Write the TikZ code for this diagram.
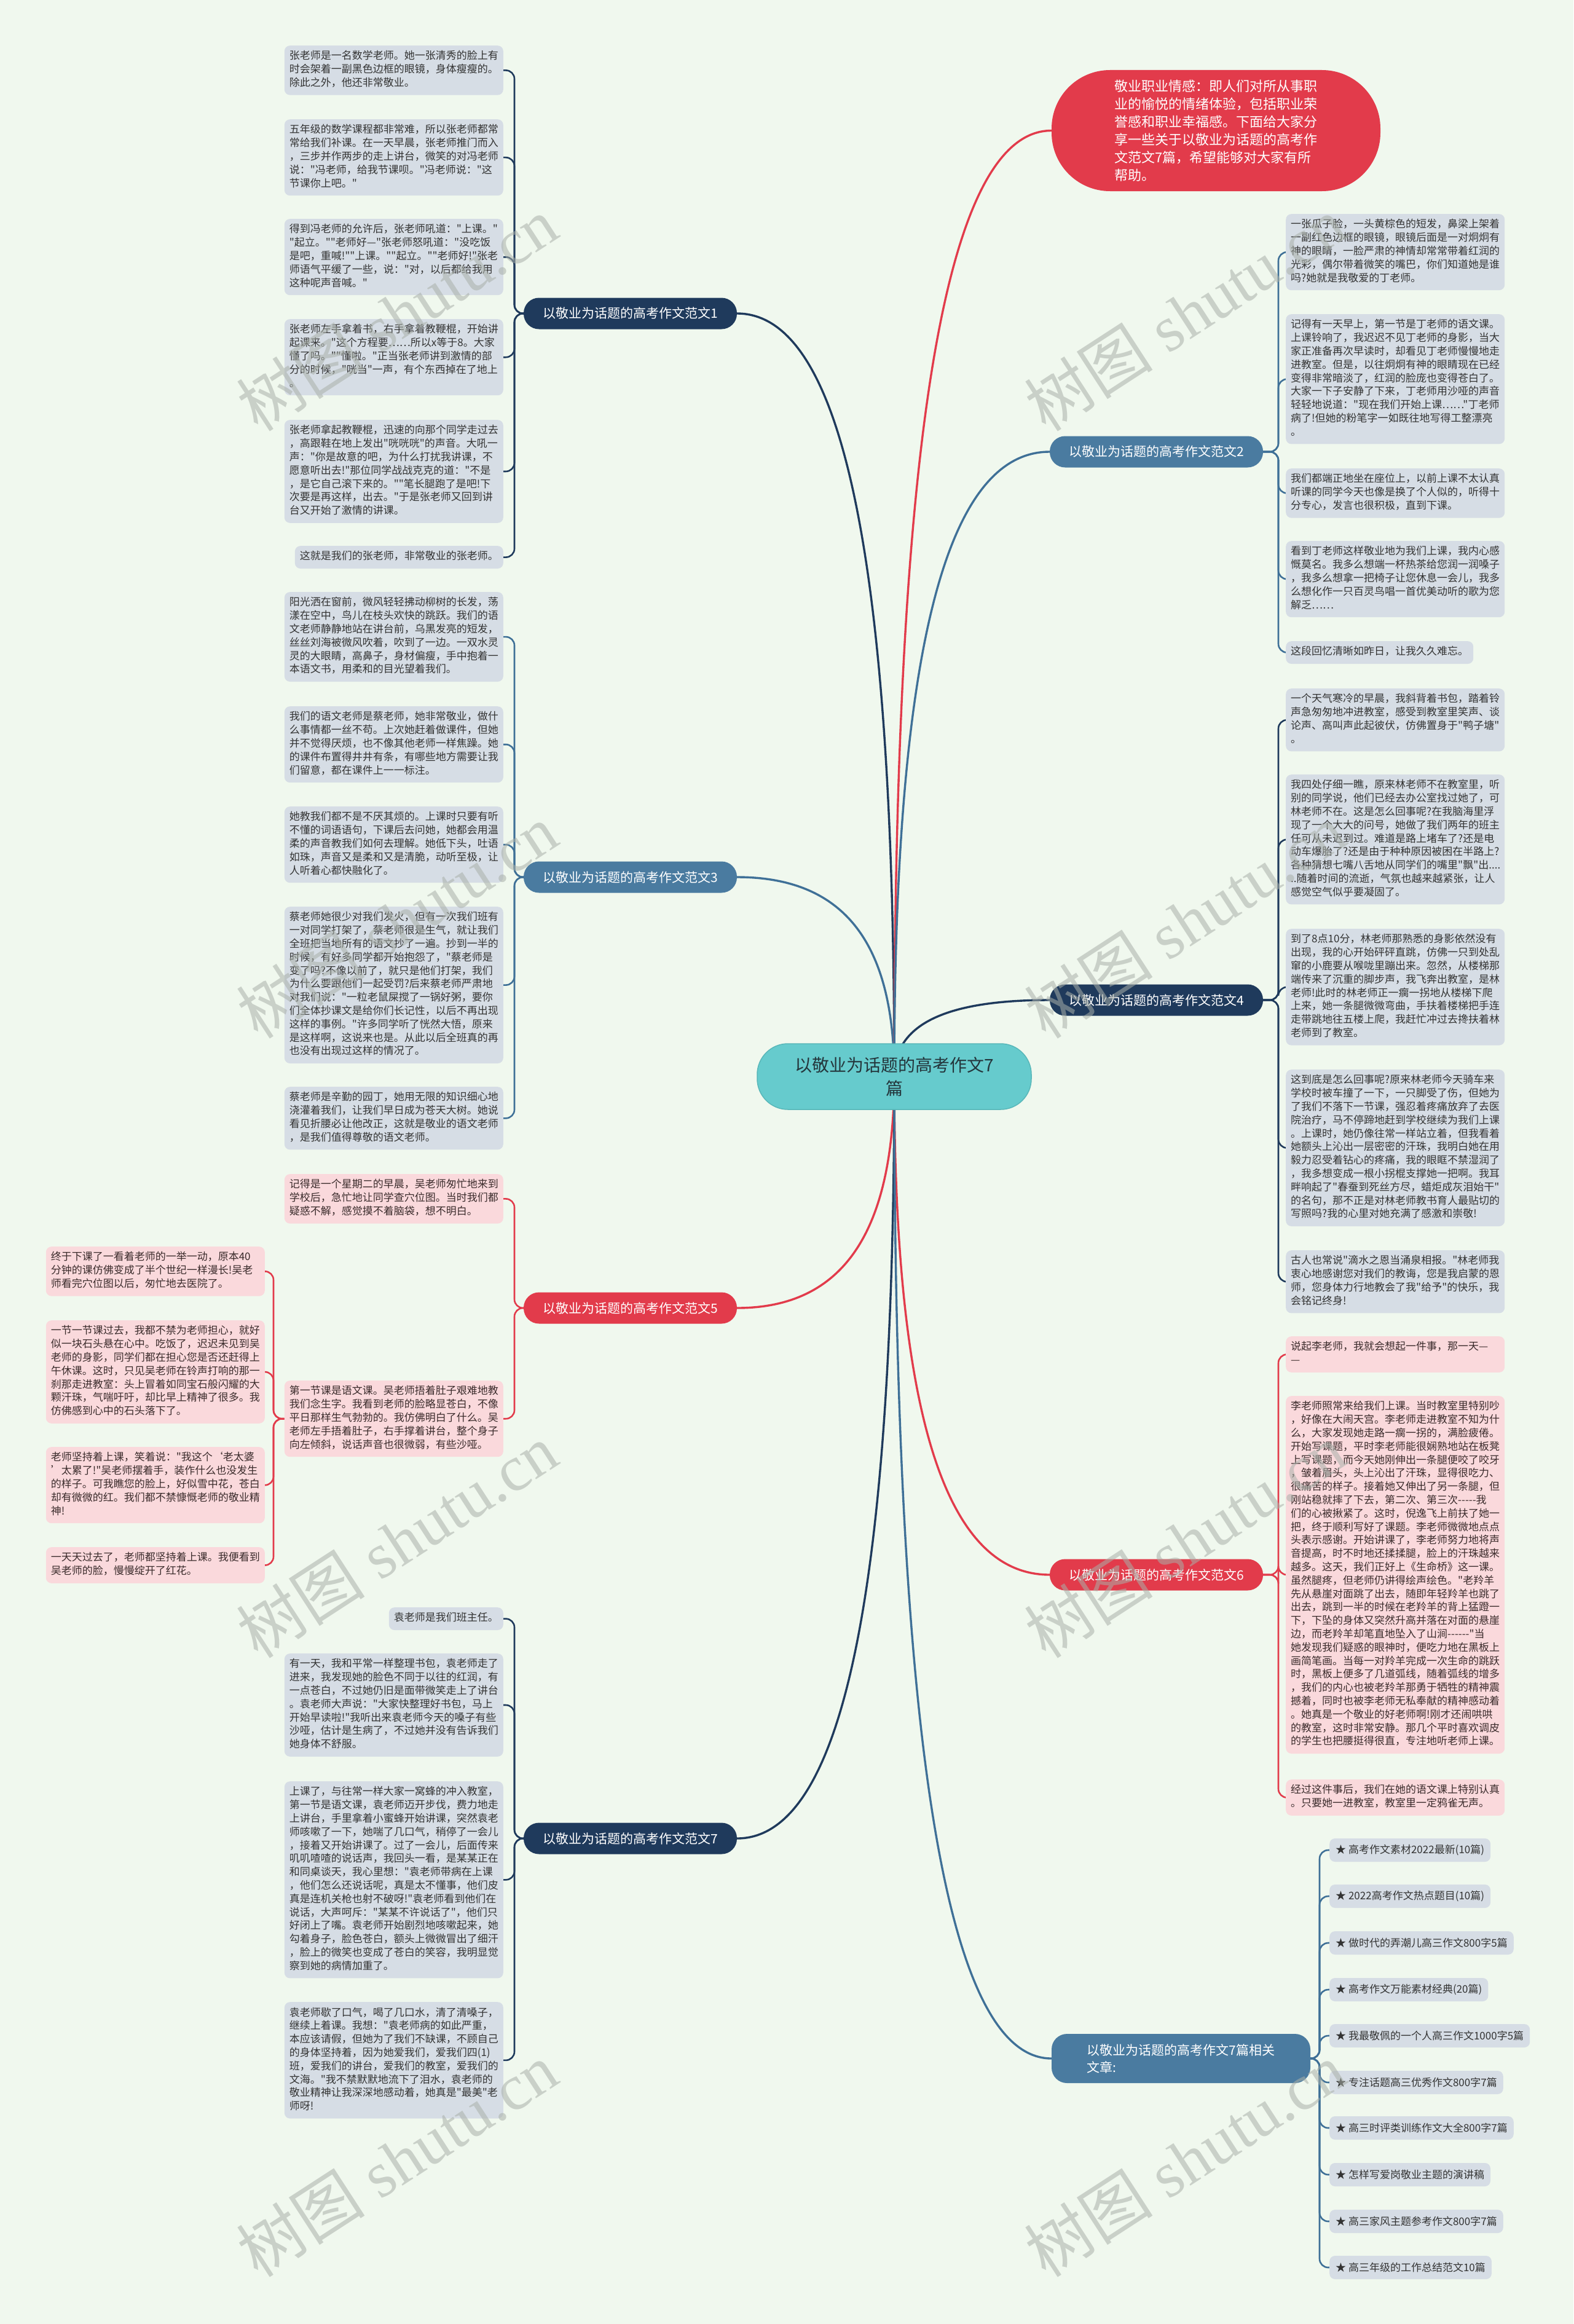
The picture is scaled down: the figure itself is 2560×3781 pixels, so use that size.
\documentclass[tikz,border=0pt]{standalone}
\usepackage{fontspec}
\newfontfamily\cjk{Noto Sans CJK SC}
\newfontfamily\wmserif{Liberation Serif}
\definecolor{bgc}{HTML}{F0F8EE}
\definecolor{navy}{HTML}{1F3A5C}
\definecolor{steel}{HTML}{4A7BA0}
\definecolor{steelc}{HTML}{3F7097}
\definecolor{redc}{HTML}{E23B4B}
\definecolor{gfill}{HTML}{D6DDE5}
\definecolor{gtext}{HTML}{333333}
\definecolor{pfill}{HTML}{FAD9DC}
\definecolor{ptext}{HTML}{3A2B2B}
\definecolor{tealf}{HTML}{66CBCD}
\definecolor{teald}{HTML}{58B7B9}
\definecolor{ctext}{HTML}{24363C}
\definecolor{wmc}{HTML}{A9B0A9}
\pgfdeclarelayer{background}
\pgfsetlayers{background,main}
\tikzset{
  box/.style={rounded corners=9pt, inner xsep=8pt, inner ysep=7.5pt, align=left,
    font=\cjk\fontsize{17}{21.8}\selectfont,
    execute at begin node=\strut, execute at end node=\strut},
  gbox/.style={box, fill=gfill, text=gtext},
  pbox/.style={box, fill=pfill, text=ptext},
  wide/.style={text width=340pt},
  lab/.style={rounded corners=25pt, minimum width=347pt, minimum height=51pt, text=white,
    font=\cjk\fontsize{21}{26}\selectfont, inner sep=0pt},
  item/.style={fill=gfill, text=gtext, rounded corners=9pt, font=\cjk\fontsize{17}{20}\selectfont,
    inner xsep=10pt, inner ysep=0pt, minimum height=38pt, anchor=west},
  mainln/.style={line width=3.4pt},
  subln/.style={line width=2.6pt, rounded corners=14pt},
  wm/.style={rotate=33, text=wmc, opacity=0.55, font=\wmserif\fontsize{105}{105}\selectfont}
}
\begin{document}
\begin{tikzpicture}[x=1pt,y=-1pt]
\useasboundingbox (0,0) rectangle (2560,3781);
\coordinate (S) at (1455,1751);

% ---------- centre and intro ----------
\node[rounded corners=50pt, fill=tealf, draw=teald, line width=1.5pt, minimum width=446pt,
  minimum height=107pt, align=center, text=ctext, font=\cjk\fontsize{28}{38}\selectfont]
  (C) at (1455,1751.5) {以敬业为话题的高考作文7\\篇};
\node[rounded corners=95pt, fill=redc, minimum width=535pt, minimum height=197pt, text=white,
  align=left, font=\cjk\fontsize{22}{29}\selectfont] (intro) at (1978.5,212.5)
  {敬业职业情感：即人们对所从事职\\业的愉悦的情绪体验，包括职业荣\\誉感和职业幸福感。下面给大家分\\享一些关于以敬业为话题的高考作\\文范文7篇，希望能够对大家有所\\帮助。};

% ---------- branch labels ----------
\node[lab, fill=navy] (B1) at (1025.5,510) {以敬业为话题的高考作文范文1};
\node[lab, fill=steel] (B3) at (1025.5,1427) {以敬业为话题的高考作文范文3};
\node[lab, fill=redc] (B5) at (1025.5,2128) {以敬业为话题的高考作文范文5};
\node[lab, fill=navy] (B7) at (1025.5,2991) {以敬业为话题的高考作文范文7};
\node[lab, fill=steel] (B2) at (1881.5,735) {以敬业为话题的高考作文范文2};
\node[lab, fill=navy] (B4) at (1881.5,1627) {以敬业为话题的高考作文范文4};
\node[lab, fill=redc] (B6) at (1881.5,2562) {以敬业为话题的高考作文范文6};
\node[lab, fill=steel, minimum width=421pt, minimum height=80pt, align=left,
  font=\cjk\fontsize{21}{28}\selectfont] (rel) at (1921.5,3349)
  {以敬业为话题的高考作文7篇相关\\文章:};

% ---------- branch 1 ----------
\node[gbox,wide,anchor=north east] (b1a) at (819,74) {张老师是一名数学老师。她一张清秀的脸上有\\时会架着一副黑色边框的眼镜，身体瘦瘦的。\\除此之外，他还非常敬业。};
\node[gbox,wide,anchor=north east] (b1b) at (819,194) {五年级的数学课程都非常难，所以张老师都常\\常给我们补课。在一天早晨，张老师推门而入\\，三步并作两步的走上讲台，微笑的对冯老师\\说："冯老师，给我节课呗。"冯老师说："这\\节课你上吧。"};
\node[gbox,wide,anchor=north east] (b1c) at (819,356) {得到冯老师的允许后，张老师吼道："上课。"\\"起立。""老师好—"张老师怒吼道："没吃饭\\是吧，重喊!""上课。""起立。""老师好!"张老\\师语气平缓了一些，说："对，以后都给我用\\这种呢声音喊。"};
\node[gbox,wide,anchor=north east] (b1d) at (819,519) {张老师左手拿着书，右手拿着教鞭棍，开始讲\\起课来。"这个方程要……所以x等于8。大家\\懂了吗。""懂啦。"正当张老师讲到激情的部\\分的时候，"咣当"一声，有个东西掉在了地上\\。};
\node[gbox,wide,anchor=north east] (b1e) at (819,683) {张老师拿起教鞭棍，迅速的向那个同学走过去\\，高跟鞋在地上发出"咣咣咣"的声音。大吼一\\声："你是故意的吧，为什么打扰我讲课，不\\愿意听出去!"那位同学战战克克的道："不是\\，是它自己滚下来的。""笔长腿跑了是吧!下\\次要是再这样，出去。"于是张老师又回到讲\\台又开始了激情的讲课。};
\node[gbox,anchor=north east] (b1f) at (819,888) {这就是我们的张老师，非常敬业的张老师。};

% ---------- branch 3 ----------
\node[gbox,wide,anchor=north east] (b3a) at (819,963) {阳光洒在窗前，微风轻轻拂动柳树的长发，荡\\漾在空中，鸟儿在枝头欢快的跳跃。我们的语\\文老师静静地站在讲台前，乌黑发亮的短发，\\丝丝刘海被微风吹着，吹到了一边。一双水灵\\灵的大眼睛，高鼻子，身材偏瘦，手中抱着一\\本语文书，用柔和的目光望着我们。};
\node[gbox,wide,anchor=north east] (b3b) at (819,1149) {我们的语文老师是蔡老师，她非常敬业，做什\\么事情都一丝不苟。上次她赶着做课件，但她\\并不觉得厌烦，也不像其他老师一样焦躁。她\\的课件布置得井井有条，有哪些地方需要让我\\们留意，都在课件上一一标注。};
\node[gbox,wide,anchor=north east] (b3c) at (819,1312) {她教我们都不是不厌其烦的。上课时只要有听\\不懂的词语语句，下课后去问她，她都会用温\\柔的声音教我们如何去理解。她低下头，吐语\\如珠，声音又是柔和又是清脆，动听至极，让\\人听着心都快融化了。};
\node[gbox,wide,anchor=north east] (b3d) at (819,1475) {蔡老师她很少对我们发火，但有一次我们班有\\一对同学打架了，蔡老师很是生气，就让我们\\全班把当地所有的语文抄了一遍。抄到一半的\\时候，有好多同学都开始抱怨了，"蔡老师是\\变了吗?不像以前了，就只是他们打架，我们\\为什么要跟他们一起受罚?后来蔡老师严肃地\\对我们说："一粒老鼠屎搅了一锅好粥，要你\\们全体抄课文是给你们长记性，以后不再出现\\这样的事例。"许多同学听了恍然大悟，原来\\是这样啊，这说来也是。从此以后全班真的再\\也没有出现过这样的情况了。};
\node[gbox,wide,anchor=north east] (b3e) at (819,1768) {蔡老师是辛勤的园丁，她用无限的知识细心地\\浇灌着我们，让我们早日成为苍天大树。她说\\看见折腰必让他改正，这就是敬业的语文老师\\，是我们值得尊敬的语文老师。};

% ---------- branch 5 ----------
\node[pbox,wide,anchor=north east] (b5a) at (819,1910) {记得是一个星期二的早晨，吴老师匆忙地来到\\学校后，急忙地让同学查穴位图。当时我们都\\疑惑不解，感觉摸不着脑袋，想不明白。};
\node[pbox,wide,anchor=north east] (b5b) at (819,2246) {第一节课是语文课。吴老师捂着肚子艰难地教\\我们念生字。我看到老师的脸略显苍白，不像\\平日那样生气勃勃的。我仿佛明白了什么。吴\\老师左手捂着肚子，右手撑着讲台，整个身子\\向左倾斜，说话声音也很微弱，有些沙哑。};
\node[pbox,wide,anchor=north east] (b5c) at (431,2028) {终于下课了一看着老师的一举一动，原本40\\分钟的课仿佛变成了半个世纪一样漫长!吴老\\师看完穴位图以后，匆忙地去医院了。};
\node[pbox,wide,anchor=north east] (b5d) at (431,2148) {一节一节课过去，我都不禁为老师担心，就好\\似一块石头悬在心中。吃饭了，迟迟未见到吴\\老师的身影，同学们都在担心您是否还赶得上\\午休课。这时，只见吴老师在铃声打响的那一\\刹那走进教室：头上冒着如同宝石般闪耀的大\\颗汗珠，气喘吁吁，却比早上精神了很多。我\\仿佛感到心中的石头落下了。};
\node[pbox,wide,anchor=north east] (b5e) at (431,2354) {老师坚持着上课，笑着说："我这个‘老太婆\\’太累了!"吴老师摆着手，装作什么也没发生\\的样子。可我瞧您的脸上，好似雪中花，苍白\\却有微微的红。我们都不禁慷慨老师的敬业精\\神!};
\node[pbox,wide,anchor=north east] (b5f) at (431,2517) {一天天过去了，老师都坚持着上课。我便看到\\吴老师的脸，慢慢绽开了红花。};

% ---------- branch 7 ----------
\node[gbox,anchor=north east] (b7a) at (819,2615) {袁老师是我们班主任。};
\node[gbox,wide,anchor=north east] (b7b) at (819,2690) {有一天，我和平常一样整理书包，袁老师走了\\进来，我发现她的脸色不同于以往的红润，有\\一点苍白，不过她仍旧是面带微笑走上了讲台\\。袁老师大声说："大家快整理好书包，马上\\开始早读啦!"我听出来袁老师今天的嗓子有些\\沙哑，估计是生病了，不过她并没有告诉我们\\她身体不舒服。};
\node[gbox,wide,anchor=north east] (b7c) at (819,2898) {上课了，与往常一样大家一窝蜂的冲入教室，\\第一节是语文课，袁老师迈开步伐，费力地走\\上讲台，手里拿着小蜜蜂开始讲课，突然袁老\\师咳嗽了一下，她喘了几口气，稍停了一会儿\\，接着又开始讲课了。过了一会儿，后面传来\\叽叽喳喳的说话声，我回头一看，是某某正在\\和同桌谈天，我心里想："袁老师带病在上课\\，他们怎么还说话呢，真是太不懂事，他们皮\\真是连机关枪也射不破呀!"袁老师看到他们在\\说话，大声呵斥："某某不许说话了"，他们只\\好闭上了嘴。袁老师开始剧烈地咳嗽起来，她\\勾着身子，脸色苍白，额头上微微冒出了细汗\\，脸上的微笑也变成了苍白的笑容，我明显觉\\察到她的病情加重了。};
\node[gbox,wide,anchor=north east] (b7d) at (819,3257) {袁老师歇了口气，喝了几口水，清了清嗓子，\\继续上着课。我想："袁老师病的如此严重，\\本应该请假，但她为了我们不缺课，不顾自己\\的身体坚持着，因为她爱我们，爱我们四(1)\\班，爱我们的讲台，爱我们的教室，爱我们的\\文海。"我不禁默默地流下了泪水，袁老师的\\敬业精神让我深深地感动着，她真是"最美"老\\师呀!};

% ---------- branch 2 ----------
\node[gbox,wide,anchor=north west] (b2a) at (2092,348) {一张瓜子脸，一头黄棕色的短发，鼻梁上架着\\一副红色边框的眼镜，眼镜后面是一对炯炯有\\神的眼睛，一脸严肃的神情却常常带着红润的\\光彩，偶尔带着微笑的嘴巴，你们知道她是谁\\吗?她就是我敬爱的丁老师。};
\node[gbox,wide,anchor=north west] (b2b) at (2092,511) {记得有一天早上，第一节是丁老师的语文课。\\上课铃响了，我迟迟不见丁老师的身影，当大\\家正准备再次早读时，却看见丁老师慢慢地走\\进教室。但是，以往炯炯有神的眼睛现在已经\\变得非常暗淡了，红润的脸庞也变得苍白了。\\大家一下子安静了下来，丁老师用沙哑的声音\\轻轻地说道："现在我们开始上课……"丁老师\\病了!但她的粉笔字一如既往地写得工整漂亮\\。};
\node[gbox,wide,anchor=north west] (b2c) at (2092,762) {我们都端正地坐在座位上，以前上课不太认真\\听课的同学今天也像是换了个人似的，听得十\\分专心，发言也很积极，直到下课。};
\node[gbox,wide,anchor=north west] (b2d) at (2092,880) {看到丁老师这样敬业地为我们上课，我内心感\\慨莫名。我多么想端一杯热茶给您润一润嗓子\\，我多么想拿一把椅子让您休息一会儿，我多\\么想化作一只百灵鸟唱一首优美动听的歌为您\\解乏……};
\node[gbox,anchor=north west] (b2e) at (2092,1043) {这段回忆清晰如昨日，让我久久难忘。};

% ---------- branch 4 ----------
\node[gbox,wide,anchor=north west] (b4a) at (2092,1120) {一个天气寒冷的早晨，我斜背着书包，踏着铃\\声急匆匆地冲进教室，感受到教室里笑声、谈\\论声、高叫声此起彼伏，仿佛置身于"鸭子塘"\\。};
\node[gbox,wide,anchor=north west] (b4b) at (2092,1260) {我四处仔细一瞧，原来林老师不在教室里，听\\别的同学说，他们已经去办公室找过她了，可\\林老师不在。这是怎么回事呢?在我脑海里浮\\现了一个大大的问号，她做了我们两年的班主\\任可从未迟到过。难道是路上堵车了?还是电\\动车爆胎了?还是由于种种原因被困在半路上?\\各种猜想七嘴八舌地从同学们的嘴里"飘"出....\\..随着时间的流逝，气氛也越来越紧张，让人\\感觉空气似乎要凝固了。};
\node[gbox,wide,anchor=north west] (b4c) at (2092,1511) {到了8点10分，林老师那熟悉的身影依然没有\\出现，我的心开始砰砰直跳，仿佛一只到处乱\\窜的小鹿要从喉咙里蹦出来。忽然，从楼梯那\\端传来了沉重的脚步声，我飞奔出教室，是林\\老师!此时的林老师正一瘸一拐地从楼梯下爬\\上来，她一条腿微微弯曲，手扶着楼梯把手连\\走带跳地往五楼上爬，我赶忙冲过去搀扶着林\\老师到了教室。};
\node[gbox,wide,anchor=north west] (b4d) at (2092,1740) {这到底是怎么回事呢?原来林老师今天骑车来\\学校时被车撞了一下，一只脚受了伤，但她为\\了我们不落下一节课，强忍着疼痛放弃了去医\\院治疗，马不停蹄地赶到学校继续为我们上课\\。上课时，她仍像往常一样站立着，但我看着\\她额头上沁出一层密密的汗珠，我明白她在用\\毅力忍受着钻心的疼痛，我的眼眶不禁湿润了\\，我多想变成一根小拐棍支撑她一把啊。我耳\\畔响起了"春蚕到死丝方尽，蜡炬成灰泪始干"\\的名句，那不正是对林老师教书育人最贴切的\\写照吗?我的心里对她充满了感激和崇敬!};
\node[gbox,wide,anchor=north west] (b4e) at (2092,2034) {古人也常说"滴水之恩当涌泉相报。"林老师我\\衷心地感谢您对我们的教诲，您是我启蒙的恩\\师，您身体力行地教会了我"给予"的快乐，我\\会铭记终身!};

% ---------- branch 6 ----------
\node[pbox,wide,anchor=north west] (b6a) at (2092,2174) {说起李老师，我就会想起一件事，那一天—\\—};
\node[pbox,wide,anchor=north west] (b6b) at (2092,2271) {李老师照常来给我们上课。当时教室里特别吵\\，好像在大闹天宫。李老师走进教室不知为什\\么，大家发现她走路一瘸一拐的，满脸疲倦。\\开始写课题，平时李老师能很娴熟地站在板凳\\上写课题，而今天她刚伸出一条腿便咬了咬牙\\，皱着眉头，头上沁出了汗珠，显得很吃力、\\很痛苦的样子。接着她又伸出了另一条腿，但\\刚站稳就摔了下去，第二次、第三次-----我\\们的心被揪紧了。这时，倪逸飞上前扶了她一\\把，终于顺利写好了课题。李老师微微地点点\\头表示感谢。开始讲课了，李老师努力地将声\\音提高，时不时地还揉揉腿，脸上的汗珠越来\\越多。这天，我们正好上《生命桥》这一课。\\虽然腿疼，但老师仍讲得绘声绘色。"老羚羊\\先从悬崖对面跳了出去，随即年轻羚羊也跳了\\出去，跳到一半的时候在老羚羊的背上猛蹬一\\下，下坠的身体又突然升高并落在对面的悬崖\\边，而老羚羊却笔直地坠入了山涧------"当\\她发现我们疑惑的眼神时，便吃力地在黑板上\\画简笔画。当每一对羚羊完成一次生命的跳跃\\时，黑板上便多了几道弧线，随着弧线的增多\\，我们的内心也被老羚羊那勇于牺牲的精神震\\撼着，同时也被李老师无私奉献的精神感动着\\。她真是一个敬业的好老师啊!刚才还闹哄哄\\的教室，这时非常安静。那几个平时喜欢调皮\\的学生也把腰挺得很直，专注地听老师上课。};
\node[pbox,wide,anchor=north west] (b6c) at (2092,2895) {经过这件事后，我们在她的语文课上特别认真\\。只要她一进教室，教室里一定鸦雀无声。};

% ---------- related list ----------
\node[item] (r1) at (2163,3010) {★ 高考作文素材2022最新(10篇)};
\node[item] (r2) at (2163,3085) {★ 2022高考作文热点题目(10篇)};
\node[item] (r3) at (2163,3161) {★ 做时代的弄潮儿高三作文800字5篇};
\node[item] (r4) at (2163,3237) {★ 高考作文万能素材经典(20篇)};
\node[item] (r5) at (2163,3312) {★ 我最敬佩的一个人高三作文1000字5篇};
\node[item] (r6) at (2163,3388) {★ 专注话题高三优秀作文800字7篇};
\node[item] (r7) at (2163,3462) {★ 高三时评类训练作文大全800字7篇};
\node[item] (r8) at (2163,3538) {★ 怎样写爱岗敬业主题的演讲稿};
\node[item] (r9) at (2163,3614) {★ 高三家风主题参考作文800字7篇};
\node[item] (r10) at (2163,3689) {★ 高三年级的工作总结范文10篇};

% ---------- connectors ----------
\coordinate (spL) at (837,0);
\coordinate (sp5) at (445,0);
\coordinate (spR) at (2080,0);
\coordinate (spRel) at (2147,0);
\begin{pgfonlayer}{background}
\fill[bgc] (0,0) rectangle (2560,3781);
\draw[mainln,navy] (S) .. controls (1455,944) and (1378,510) .. (B1.east);
\draw[mainln,steelc] (S) .. controls (1455,1540) and (1378,1427) .. (B3.east);
\draw[mainln,redc] (S) .. controls (1455,1996) and (1378,2128) .. (B5.east);
\draw[mainln,navy] (S) .. controls (1455,2557) and (1378,2991) .. (B7.east);
\draw[mainln,redc] (S) .. controls (1455,751) and (1531,212) .. (intro.west);
\draw[mainln,steelc] (S) .. controls (1455,1091) and (1531,735) .. (B2.west);
\draw[mainln,navy] (S) .. controls (1455,1670) and (1531,1627) .. (B4.west);
\draw[mainln,redc] (S) .. controls (1455,2278) and (1531,2562) .. (B6.west);
\draw[mainln,steelc] (S) .. controls (1455,2790) and (1531,3349) .. (rel.west);
\foreach \c in {b1a,b1b,b1c,b1d,b1e,b1f}
  \draw[subln,navy] (B1.west) -| (spL |- \c.east) -- (\c.east);
\foreach \c in {b3a,b3b,b3c,b3d,b3e}
  \draw[subln,steelc] (B3.west) -| (spL |- \c.east) -- (\c.east);
\foreach \c in {b5a,b5b}
  \draw[subln,redc] (B5.west) -| (spL |- \c.east) -- (\c.east);
\foreach \c in {b5c,b5d,b5e,b5f}
  \draw[subln,redc] (b5b.west) -| (sp5 |- \c.east) -- (\c.east);
\foreach \c in {b7a,b7b,b7c,b7d}
  \draw[subln,navy] (B7.west) -| (spL |- \c.east) -- (\c.east);
\foreach \c in {b2a,b2b,b2c,b2d,b2e}
  \draw[subln,steelc] (B2.east) -| (spR |- \c.west) -- (\c.west);
\foreach \c in {b4a,b4b,b4c,b4d,b4e}
  \draw[subln,navy] (B4.east) -| (spR |- \c.west) -- (\c.west);
\foreach \c in {b6a,b6b,b6c}
  \draw[subln,redc] (B6.east) -| (spR |- \c.west) -- (\c.west);
\foreach \c in {r1,r2,r3,r4,r5,r6,r7,r8,r9,r10}
  \draw[subln,steelc] (rel.east) -| (spRel |- \c.west) -- (\c.west);
\end{pgfonlayer}

% ---------- watermarks ----------
\foreach \x in {646,1928}
  \foreach \y in {511,1499,2507,3514}
    \node[wm] at (\x,\y) {{\cjk 树图} shutu.cn};
\end{tikzpicture}
\end{document}
